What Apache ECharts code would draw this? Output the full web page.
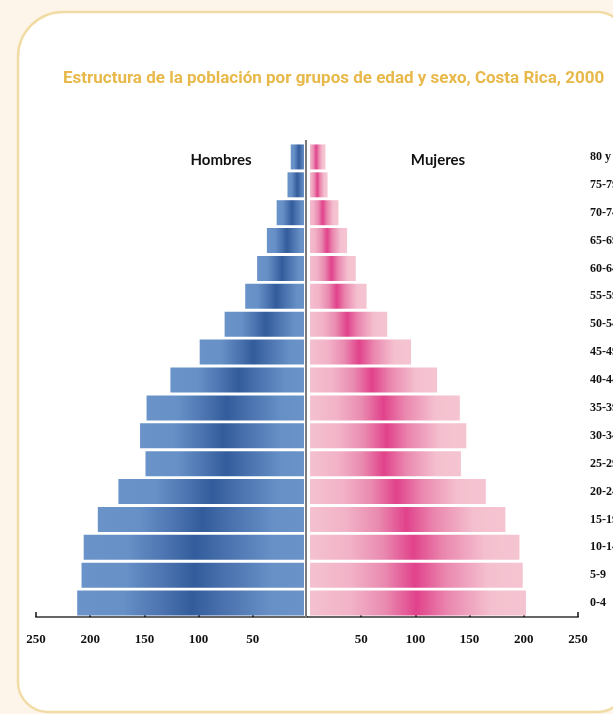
<!DOCTYPE html>
<html>
<head>
<meta charset="utf-8">
<title>Estructura de la población, Costa Rica 2000</title>
<script src="https://cdn.jsdelivr.net/npm/echarts@6/dist/echarts.min.js"></script>
<style>
  html, body { margin: 0; padding: 0; background: #fdf5ea; }
  #chart { width: 613px; height: 714px; }
</style>
</head>
<body>
<div id="chart"></div>
<script>
// grupos de edad, de abajo hacia arriba
const grupos = ['0-4', '5-9', '10-14', '15-19', '20-24', '25-29', '30-34', '35-39', '40-44',
    '45-49', '50-54', '55-59', '60-64', '65-69', '70-74', '75-79', '80 y más'];
// miles de personas
const hombres = [212, 208, 206, 193, 174, 149, 154, 148, 126, 99, 76, 57, 46, 37, 28, 18, 15];
const mujeres = [202, 199, 196, 183, 165, 142, 147, 141, 120, 96, 74, 55, 45, 37, 29, 19, 17];
const ticks = [-250, -200, -150, -100, -50, 0, 50, 100, 150, 200, 250];

const azul = {
    type: 'linear', x: 0, y: 0, x2: 1, y2: 0,
    colorStops: [
        { offset: 0, color: '#6a93c9' },
        { offset: 0.2, color: '#6690c6' },
        { offset: 0.36, color: '#4d75b1' },
        { offset: 0.5, color: '#325c9b' },
        { offset: 0.64, color: '#4a72ae' },
        { offset: 0.84, color: '#6690c6' },
        { offset: 1, color: '#6a93c9' }
    ]
};
const rosa = {
    type: 'linear', x: 0, y: 0, x2: 1, y2: 0,
    colorStops: [
        { offset: 0, color: '#f4c3d0' },
        { offset: 0.2, color: '#f2b2c7' },
        { offset: 0.36, color: '#e98ab0' },
        { offset: 0.5, color: '#e1428b' },
        { offset: 0.64, color: '#ea86ae' },
        { offset: 0.84, color: '#f4c0cf' },
        { offset: 1, color: '#f5c4d1' }
    ]
};

const myChart = echarts.init(document.getElementById('chart'));
const option = {
    backgroundColor: '#fdf5ea',
    animation: false,
    title: {
        text: 'Estructura de la población por grupos de edad y sexo, Costa Rica, 2000',
        left: 58,
        top: 65,
        textStyle: {
            color: '#e8b94a',
            fontFamily: '"Liberation Sans Narrow", "Roboto", sans-serif',
            fontWeight: 'bold',
            fontSize: 17
        }
    },
    grid: { left: 36, right: 35, top: 143, bottom: 97, outerBoundsMode: 'none', containLabel: false },
    xAxis: {
        type: 'value',
        min: -250,
        max: 250,
        interval: 50,
        splitLine: { show: false },
        axisLine: { show: true, lineStyle: { color: '#666', width: 2 } },
        axisTick: { show: true, inside: true, length: 5, lineStyle: { color: '#111', width: 1.5 } },
        axisLabel: {
            margin: 16,
            color: '#111',
            fontFamily: '"Liberation Serif", serif',
            fontWeight: 'bold',
            fontSize: 13,
            formatter: v => (v === 0 || ticks.indexOf(v) < 0) ? '' : String(Math.abs(v))
        }
    },
    yAxis: {
        type: 'category',
        data: grupos,
        position: 'right',
        axisLine: { show: false },
        axisTick: { show: false },
        axisLabel: {
            margin: 12,
            align: 'left',
            color: '#111',
            fontFamily: '"Liberation Serif", serif',
            fontWeight: 'bold',
            fontSize: 12
        }
    },
    series: [
        {
            name: 'Hombres',
            type: 'bar',
            data: hombres.map(v => -v),
            barWidth: 25,
            barGap: '-100%',
            itemStyle: { color: azul }
        },
        {
            name: 'Mujeres',
            type: 'bar',
            data: mujeres,
            barWidth: 25,
            barGap: '-100%',
            itemStyle: { color: rosa }
        }
    ],
    graphic: [
        {
            type: 'rect', z: -10,
            shape: { x: 18, y: 12, width: 609, height: 700, r: [45, 30, 30, 30] },
            style: { fill: '#fff', stroke: '#f2dca6', lineWidth: 2.5 }
        },
        {
            type: 'rect', z: 100,
            shape: { x: 304, y: 140, width: 6, height: 476 },
            style: { fill: '#fff' }
        },
        {
            type: 'line', z: 101,
            shape: { x1: 306, y1: 140, x2: 306, y2: 617 },
            style: { stroke: '#7a7a7a', lineWidth: 2 }
        },
        {
            type: 'text', z: 101, x: 221, y: 160,
            style: {
                text: 'Hombres', fill: '#111', align: 'center', verticalAlign: 'middle',
                font: 'bold 15px Lato, "DejaVu Sans", sans-serif'
            }
        },
        {
            type: 'text', z: 101, x: 438, y: 160,
            style: {
                text: 'Mujeres', fill: '#111', align: 'center', verticalAlign: 'middle',
                font: 'bold 15px Lato, "DejaVu Sans", sans-serif'
            }
        }
    ]
};
myChart.setOption(option);
window.addEventListener('resize', () => myChart.resize());
</script>
</body>
</html>
